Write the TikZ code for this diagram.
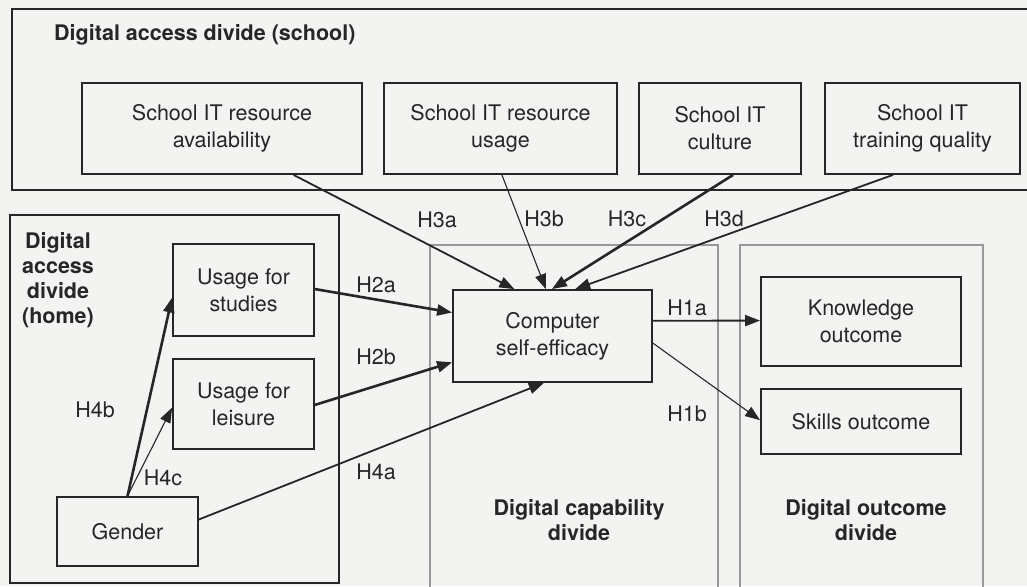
\documentclass[tikz,border=0pt]{standalone}
\usepackage{fontspec}
\setmainfont{TeX Gyre Heros}
\usetikzlibrary{arrows.meta,calc}
\definecolor{ink}{HTML}{262626}
\definecolor{paper}{HTML}{F3F3F1}
\definecolor{pale}{HTML}{999999}
\begin{document}
\begin{tikzpicture}[x=1pt,y=-1pt,
  txt/.style={font=\fontsize{21.5}{27}\selectfont, text=ink, align=center},
  box/.style={txt, draw=ink, line width=1.8pt, inner sep=0pt},
  zone/.style={draw=ink, line width=1.8pt},
  palezone/.style={draw=pale, line width=1.2pt},
  head/.style={font=\bfseries\fontsize{21.5}{25}\selectfont, text=ink, align=center, inner sep=0pt},
  lbl/.style={txt, inner sep=0pt},
  link/.style={draw=ink, -{Triangle[length=15pt,width=11pt]}},
  wa/.style={line width=1.1pt},
  wb/.style={line width=1.8pt},
  wc/.style={line width=2.6pt}]

% page and background
\useasboundingbox (0,0) rectangle (1027,586);
\fill[paper] (0,0) rectangle (1027,586);
\clip (0,0) rectangle (1027,586);

% group frames
\draw[zone] (12,9) rectangle (1045,190);
\draw[zone] (10,215) rectangle (339,583);
\draw[palezone] (430,245) rectangle (718,600);
\draw[palezone] (740,245) rectangle (983,600);

% group titles
\node[head, anchor=west] (hschool) at (54,35) {Digital access divide (school)};
\node[head] (hhome) at (58,280) {Digital\\access\\divide\\(home)};
\node[head] (hcap) at (579,520) {Digital capability\\divide};
\node[head] (hout) at (866,520) {Digital outcome\\divide};

% school factors
\node[box, minimum width=280pt, minimum height=91pt] (sa) at (222,128.5) {School IT resource\\availability};
\node[box, minimum width=233pt, minimum height=91pt] (sb) at (500.5,128.5) {School IT resource\\usage};
\node[box, minimum width=162pt, minimum height=91pt] (sc) at (720,128.5) {School IT\\culture};
\node[box, minimum width=195pt, minimum height=91pt] (sd) at (922.5,128.5) {School IT\\training quality};

% home factors
\node[box, minimum width=141pt, minimum height=92pt] (us) at (243.5,290) {Usage for\\studies};
\node[box, minimum width=141pt, minimum height=90pt] (ul) at (243.5,404) {Usage for\\leisure};
\node[box, minimum width=141pt, minimum height=69pt] (gen) at (127.5,531.5) {Gender};

% capability and outcomes
\node[box, minimum width=199pt, minimum height=92pt] (cse) at (552.5,336) {Computer\\self-efficacy};
\node[box, minimum width=200pt, minimum height=89pt] (ko) at (861,321.5) {Knowledge\\outcome};
\node[box, minimum width=200pt, minimum height=65pt] (so) at (861,421.5) {Skills outcome};

% hypotheses H3
\draw[link,wb] ($(sa.south west)!0.754!(sa.south east)$) -- ($(cse.north west)!0.31!(cse.north east)$);
\draw[link,wa] ($(sb.south west)!0.506!(sb.south east)$) -- ($(cse.north west)!0.467!(cse.north east)$);
\draw[link,wc] ($(sc.south west)!0.58!(sc.south east)$) -- ($(cse.north west)!0.497!(cse.north east)$);
\draw[link,wb] ($(sd.south west)!0.35!(sd.south east)$) -- ($(cse.north west)!0.613!(cse.north east)$);

% hypotheses H2
\draw[link,wc] ($(us.north east)!0.49!(us.south east)$) -- ($(cse.north west)!0.25!(cse.south west)$);
\draw[link,wc] ($(ul.north east)!0.51!(ul.south east)$) -- ($(cse.north west)!0.78!(cse.south west)$);

% hypotheses H4
\draw[link,wb] ($(gen.north east)!0.33!(gen.south east)$) -- ($(cse.south west)!0.457!(cse.south east)$);
\draw[link,wc] (gen.north) -- ($(us.north west)!0.58!(us.south west)$);
\draw[link,wa] (gen.north) -- ($(ul.north west)!0.54!(ul.south west)$);

% hypotheses H1
\draw[link,wb] ($(cse.north east)!0.337!(cse.south east)$) -- ($(ko.north west)!0.49!(ko.south west)$);
\draw[link,wa] ($(cse.north east)!0.576!(cse.south east)$) -- ($(so.north west)!0.48!(so.south west)$);

% hypothesis labels
\node[lbl] (l3a) at (437,220) {H3a};
\node[lbl] (l3b) at (544,219) {H3b};
\node[lbl] (l3c) at (627,219) {H3c};
\node[lbl] (l3d) at (724,219) {H3d};
\node[lbl] (l2a) at (376,285) {H2a};
\node[lbl] (l2b) at (376,357) {H2b};
\node[lbl] (l4a) at (376,472) {H4a};
\node[lbl] (l4b) at (95,410) {H4b};
\node[lbl] (l4c) at (163,478) {H4c};
\node[lbl] (l1a) at (687,308) {H1a};
\node[lbl] (l1b) at (687,414) {H1b};
\end{tikzpicture}
\end{document}
